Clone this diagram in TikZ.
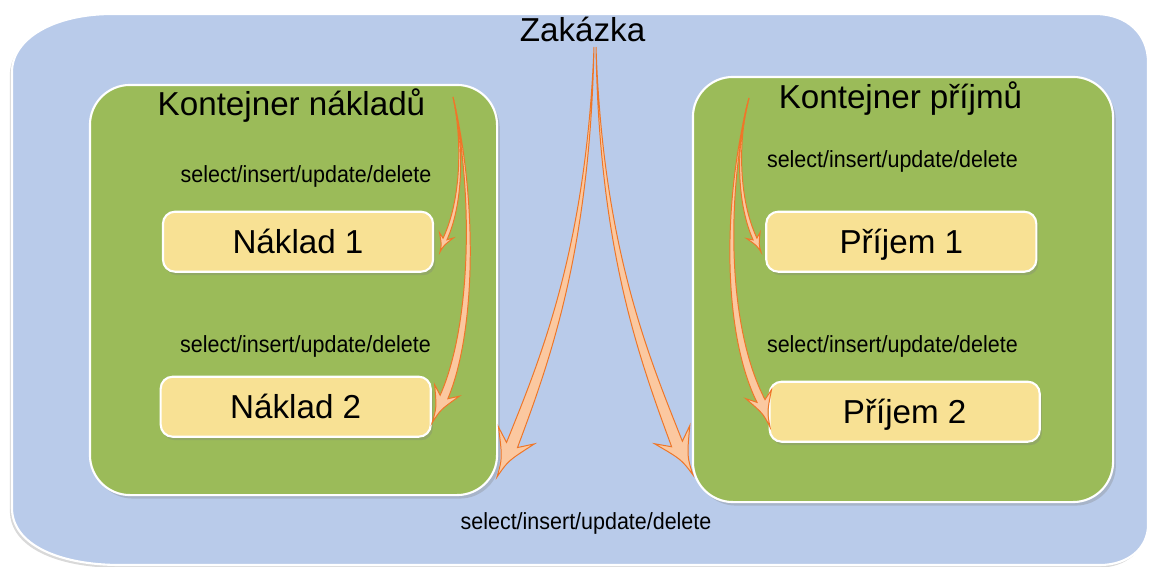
\documentclass[tikz,border=0pt]{standalone}
\usepackage{fontspec}
\setmainfont{Liberation Sans}
\newfontfamily\condfont[FakeStretch=0.92]{Liberation Sans}
\usetikzlibrary{calc,shadows}
\definecolor{outerblue}{RGB}{185,203,234}
\definecolor{contgreen}{RGB}{155,187,89}
\definecolor{itemyellow}{RGB}{248,225,148}
\definecolor{arrline}{RGB}{238,118,40}
\definecolor{arrfill}{RGB}{251,200,160}
\newcommand\taparrow[7]{%
  \filldraw[arrowshape] (#1)
    .. controls ($(#2)!{0.35*#6}!90:(#3)$) and ($(#3)!{0.8*#6}!90:(#4)$) .. ($(#4)!#6!90:(#5)$)
    -- ($(#4)!#7!118:(#5)$)
    .. controls ($($(#4)!0.45!(#5)$)!{0.14*#7}!90:(#5)$) .. (#5)
    .. controls ($($(#4)!0.45!(#5)$)!{0.14*#7}!-90:(#5)$) .. ($(#4)!#7!-118:(#5)$)
    -- ($(#4)!#6!-90:(#5)$)
    .. controls ($(#3)!{0.8*#6}!-90:(#4)$) and ($(#2)!{0.35*#6}!-90:(#3)$) .. (#1) -- cycle;
}
\tikzset{
  outerbox/.style={fill=outerblue, draw=white, line width=1.5pt,
    drop shadow={opacity=0.3, shadow xshift=-1.5pt, shadow yshift=-2pt}},
  container/.style={draw=white, line width=1.5pt, fill=contgreen, rounded corners=1cm,
    inner sep=0pt, drop shadow={opacity=0.3, shadow xshift=2pt, shadow yshift=-2.5pt}},
  item/.style={draw=white, line width=1.5pt, fill=itemyellow, rounded corners=0.3cm,
    inner sep=0pt, minimum width=6.75cm, minimum height=1.5cm,
    font=\fontsize{23.6}{28}\selectfont, text height=17pt, text depth=0pt,
    drop shadow={opacity=0.3, shadow xshift=1.5pt, shadow yshift=-2.5pt}},
  bigtext/.style={font=\fontsize{23.6}{28}\selectfont, inner sep=0pt, anchor=base},
  smalltext/.style={font=\condfont\fontsize{16.6}{19}\selectfont, inner sep=0pt, anchor=base},
  arrowshape/.style={draw=arrline, fill=arrfill, line width=0.7pt, line join=miter}
}
\begin{document}
\begin{tikzpicture}[x=0.025cm, y=-0.025cm]
\useasboundingbox (0,0) rectangle (1151,566);
% outer blue shape
\filldraw[outerbox] (12,72) -- (12,508) .. controls (12,545) and (60,565) .. (120,565)
  -- (1100,565) .. controls (1128,565) and (1148,548) .. (1148,525)
  -- (1148,62) .. controls (1148,35) and (1128,14) .. (1095,14)
  -- (112,14) .. controls (55,14) and (12,38) .. (12,72) -- cycle;
% containers
\node[container, minimum width=10.175cm, minimum height=10.25cm] (cl) at (293.5,290) {};
\node[container, minimum width=10.5cm, minimum height=10.625cm] (cr) at (903,289.5) {};
% items
\node[item] (n1) at (298,241.7) {Náklad 1};
\node[item] (n2) at (295.7,406.7) {Náklad 2};
\node[item] (p1) at (901.3,241.7) {Příjem 1};
\node[item] (p2) at (904.7,411.7) {Příjem 2};
% titles
\node[bigtext] (zak) at (582.5,41.5) {Zakázka};
\node[bigtext] (kn) at (291.5,115) {Kontejner nákladů};
\node[bigtext] (kp) at (900.5,108) {Kontejner příjmů};
% labels
\node[smalltext] (l1) at (306,182) {select/insert/update/delete};
\node[smalltext] (l2) at (305.5,352.7) {select/insert/update/delete};
\node[smalltext] (r1) at (892.4,167.3) {select/insert/update/delete};
\node[smalltext] (r2) at (892.4,352.7) {select/insert/update/delete};
\node[smalltext] (lb) at (586,529) {select/insert/update/delete};
% arrow end points
\coordinate (zs1) at (594,47);
\coordinate (zs2) at (596,47);
\coordinate (ks) at (453,97);
\coordinate (ps) at (749,98);
\coordinate (tzl) at (497,477);
\coordinate (tzr) at (693,475);
\coordinate (tn1) at (440,252);
\coordinate (tn2) at (432,423);
\coordinate (tp1) at (761,252);
\coordinate (tp2) at (770,427);
% arrows
\taparrow{zs1}{588,250}{545,360}{512,445}{tzl}{4.3pt}{16pt}
\taparrow{zs2}{601,250}{645,360}{677,444}{tzr}{4.3pt}{16pt}
\taparrow{ks}{463,140}{463,200}{445,239}{tn1}{1.5pt}{6pt}
\taparrow{ks}{476,200}{473,330}{444,397}{tn2}{3pt}{11pt}
\taparrow{ps}{737,140}{737,200}{755,239}{tp1}{1.5pt}{6pt}
\taparrow{ps}{724,200}{725,330}{761,401}{tp2}{3pt}{11pt}
\end{tikzpicture}
\end{document}
